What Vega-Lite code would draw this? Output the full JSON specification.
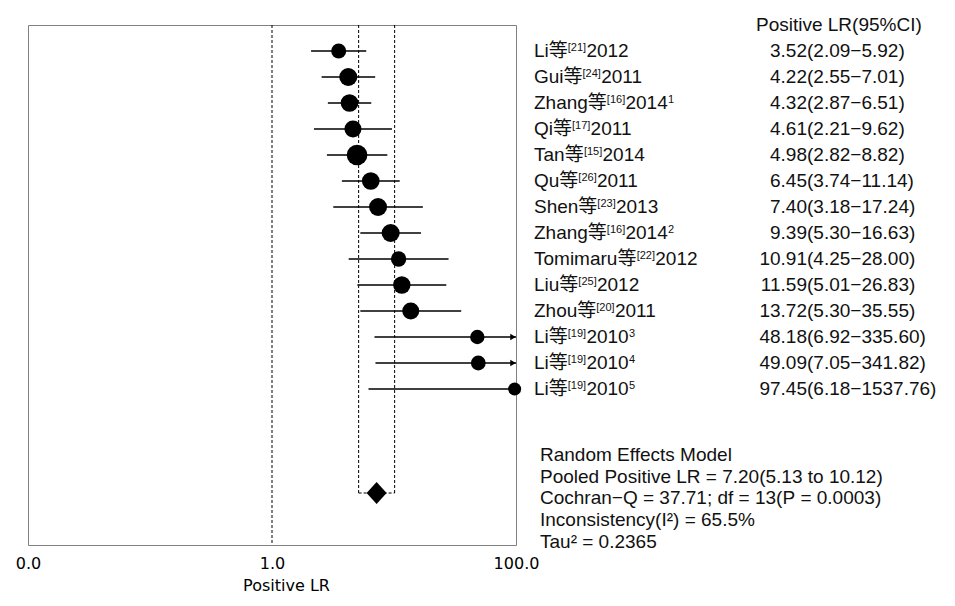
{
  "$schema": "https://vega.github.io/schema/vega-lite/v6.json",
  "background": "white",
  "padding": {"left": 14, "top": 15, "right": 0, "bottom": 0},
  "bounds": "flush",
  "spacing": 0,
  "config": {
    "view": {"stroke": null},
    "text": {"font": "Liberation Sans, Noto Sans CJK SC", "fontSize": 19, "color": "#111111"}
  },
  "datasets": {
    "studies": [
      {"row": 1, "name": "Li", "ref": "[21]", "year": "2012", "note": "", "est": 3.52, "lo": 2.09, "hi": 5.92, "weight": 5.7},
      {"row": 2, "name": "Gui", "ref": "[24]", "year": "2011", "note": "", "est": 4.22, "lo": 2.55, "hi": 7.01, "weight": 8.2},
      {"row": 3, "name": "Zhang", "ref": "[16]", "year": "2014", "note": "1", "est": 4.32, "lo": 2.87, "hi": 6.51, "weight": 7.9},
      {"row": 4, "name": "Qi", "ref": "[17]", "year": "2011", "note": "", "est": 4.61, "lo": 2.21, "hi": 9.62, "weight": 7.3},
      {"row": 5, "name": "Tan", "ref": "[15]", "year": "2014", "note": "", "est": 4.98, "lo": 2.82, "hi": 8.82, "weight": 10.8},
      {"row": 6, "name": "Qu", "ref": "[26]", "year": "2011", "note": "", "est": 6.45, "lo": 3.74, "hi": 11.14, "weight": 7.9},
      {"row": 7, "name": "Shen", "ref": "[23]", "year": "2013", "note": "", "est": 7.40, "lo": 3.18, "hi": 17.24, "weight": 8.2},
      {"row": 8, "name": "Zhang", "ref": "[16]", "year": "2014", "note": "2", "est": 9.39, "lo": 5.30, "hi": 16.63, "weight": 8.2},
      {"row": 9, "name": "Tomimaru", "ref": "[22]", "year": "2012", "note": "", "est": 10.91, "lo": 4.25, "hi": 28.00, "weight": 5.9},
      {"row": 10, "name": "Liu", "ref": "[25]", "year": "2012", "note": "", "est": 11.59, "lo": 5.01, "hi": 26.83, "weight": 7.6},
      {"row": 11, "name": "Zhou", "ref": "[20]", "year": "2011", "note": "", "est": 13.72, "lo": 5.30, "hi": 35.55, "weight": 7.3},
      {"row": 12, "name": "Li", "ref": "[19]", "year": "2010", "note": "3", "est": 48.18, "lo": 6.92, "hi": 335.60, "weight": 5.2},
      {"row": 13, "name": "Li", "ref": "[19]", "year": "2010", "note": "4", "est": 49.09, "lo": 7.05, "hi": 341.82, "weight": 5.5},
      {"row": 14, "name": "Li", "ref": "[19]", "year": "2010", "note": "5", "est": 97.45, "lo": 6.18, "hi": 1537.76, "weight": 4.3}
    ],
    "pooled": [
      {"row": 18, "est": 7.20, "lo": 5.13, "hi": 10.12}
    ],
    "header": [
      {"text": "Positive LR(95%CI)"}
    ],
    "stats": [
      {"line": 0, "part": "a", "text": "Random Effects Model"},
      {"line": 1, "part": "a", "text": "Pooled Positive LR = 7.20(5.13 to 10.12)"},
      {"line": 2, "part": "a", "text": "Cochran−Q = 37.71; df = 13("},
      {"line": 2, "part": "b", "text": "P"},
      {"line": 2, "part": "c", "text": "= 0.0003)"},
      {"line": 3, "part": "a", "text": "Inconsistency(I²) = 65.5%"},
      {"line": 4, "part": "a", "text": "Tau² = 0.2365"}
    ]
  },
  "resolve": {"scale": {"x": "independent", "y": "independent"}},
  "hconcat": [
    {
      "width": 488,
      "height": 520,
      "view": {"stroke": "#808080", "strokeWidth": 1},
      "layer": [
        {
          "data": {"name": "pooled"},
          "transform": [{"calculate": "1", "as": "one"}],
          "mark": {"type": "rule", "strokeDash": [3, 2], "color": "black", "strokeWidth": 1},
          "encoding": {
            "x": {
              "field": "one", "type": "quantitative",
              "scale": {"type": "log", "domain": [0.01, 100], "nice": false, "clamp": true},
              "axis": {
                "values": [0.01, 1, 100], "format": ".1f", "labelFlush": false,
                "domain": false, "ticks": false, "grid": false,
                "labelFont": "DejaVu Sans", "labelFontSize": 16, "labelColor": "black", "labelPadding": 10,
                "title": "Positive LR", "titleFont": "DejaVu Sans", "titleFontSize": 16,
                "titleFontWeight": "normal", "titleColor": "black", "titlePadding": 6,
                "titleX": 258, "titleAlign": "center"
              }
            }
          }
        },
        {
          "data": {"name": "pooled"},
          "mark": {"type": "rule", "strokeDash": [3, 2], "color": "black", "strokeWidth": 1},
          "encoding": {
            "x": {"field": "lo", "type": "quantitative", "title": "Positive LR"},
            "y": {"field": "row", "type": "quantitative", "scale": {"domain": [0, 20], "nice": false, "reverse": true}, "axis": null},
            "y2": {"datum": 0}
          }
        },
        {
          "data": {"name": "pooled"},
          "mark": {"type": "rule", "strokeDash": [3, 2], "color": "black", "strokeWidth": 1},
          "encoding": {
            "x": {"field": "hi", "type": "quantitative", "title": "Positive LR"},
            "y": {"field": "row", "type": "quantitative", "axis": null},
            "y2": {"datum": 0}
          }
        },
        {
          "data": {"name": "pooled"},
          "mark": {"type": "rule", "strokeDash": [3, 2], "color": "black", "strokeWidth": 1},
          "encoding": {
            "x": {"field": "lo", "type": "quantitative", "title": "Positive LR"},
            "x2": {"field": "hi"},
            "y": {"field": "row", "type": "quantitative", "axis": null}
          }
        },
        {
          "data": {"name": "studies"},
          "mark": {"type": "rule", "color": "black", "strokeWidth": 1.3},
          "encoding": {
            "x": {"field": "lo", "type": "quantitative", "title": "Positive LR"},
            "x2": {"field": "hi"},
            "y": {"field": "row", "type": "quantitative", "axis": null}
          }
        },
        {
          "data": {"name": "studies"},
          "transform": [{"filter": "datum.hi > 100"}, {"calculate": "100", "as": "edge"}],
          "mark": {"type": "point", "shape": "triangle-right", "filled": true, "color": "black", "size": 40, "xOffset": -3, "opacity": 1},
          "encoding": {
            "x": {"field": "edge", "type": "quantitative", "title": "Positive LR"},
            "y": {"field": "row", "type": "quantitative", "axis": null}
          }
        },
        {
          "data": {"name": "studies"},
          "mark": {"type": "circle", "color": "black", "opacity": 1},
          "encoding": {
            "x": {"field": "est", "type": "quantitative", "title": "Positive LR"},
            "y": {"field": "row", "type": "quantitative", "axis": null},
            "size": {"field": "weight", "type": "quantitative", "scale": {"domain": [0, 10.8], "range": [0, 428], "zero": true}, "legend": null}
          }
        },
        {
          "data": {"name": "pooled"},
          "mark": {"type": "point", "shape": "M-1,0L0,-1.1L1,0L0,1.1Z", "filled": true, "color": "black", "size": 400, "opacity": 1},
          "encoding": {
            "x": {"field": "est", "type": "quantitative", "title": "Positive LR"},
            "y": {"field": "row", "type": "quantitative", "axis": null}
          }
        }
      ]
    },
    {
      "width": 439,
      "height": 520,
      "layer": [
        {
          "data": {"name": "header"},
          "transform": [{"calculate": "240", "as": "hx"}, {"calculate": "0", "as": "hy"}],
          "mark": {"type": "text", "align": "left", "baseline": "alphabetic", "dy": 5.5},
          "encoding": {
            "x": {"field": "hx", "type": "quantitative", "scale": {"domain": [0, 439], "nice": false, "zero": true}, "axis": null},
            "y": {"field": "hy", "type": "quantitative", "scale": {"domain": [0, 20], "nice": false, "reverse": true}, "axis": null},
            "text": {"field": "text"}
          }
        },
        {
          "data": {"name": "stats"},
          "transform": [
            {"calculate": "datum.part == 'a' ? 24 : datum.part == 'b' ? 24 + 242.4 : 24 + 242.4 + 12.7 + 5.3", "as": "hx"},
            {"calculate": "16.76 + datum.line * 21.75 / 26", "as": "hy"}
          ],
          "mark": {"type": "text", "align": "left", "baseline": "alphabetic"},
          "encoding": {
            "x": {"field": "hx", "type": "quantitative", "axis": null},
            "y": {"field": "hy", "type": "quantitative", "axis": null},
            "text": {"field": "text"},
            "fontStyle": {"condition": {"test": "datum.part == 'b'", "value": "italic"}, "value": "normal"}
          }
        },
        {
          "data": {"name": "studies"},
          "transform": [
            {"calculate": "datum.name + '等'", "as": "label"},
            {"calculate": "19 * (0.556 * length(datum.name) - 0.334 * (length(datum.name) - length(replace(datum.name, regexp('i', 'g'), ''))) - 0.223 * (length(datum.name) - length(replace(datum.name, regexp('r', 'g'), ''))) + 0.277 * (length(datum.name) - length(replace(datum.name, regexp('m', 'g'), ''))) + 0.222 * (length(datum.name) - length(replace(datum.name, regexp('[GQ]', 'g'), ''))) + 0.111 * (length(datum.name) - length(replace(datum.name, regexp('S', 'g'), ''))) + 0.055 * (length(datum.name) - length(replace(datum.name, regexp('Z', 'g'), ''))) - 0.04 * (length(datum.name) - length(replace(datum.name, regexp('T', 'g'), ''))))", "as": "nw"},
            {"calculate": "18", "as": "xname"},
            {"calculate": "18 + datum.nw + 19", "as": "xref"},
            {"calculate": "datum.xref + 18.6", "as": "xyear"},
            {"calculate": "datum.xyear + 42.5", "as": "xnote"},
            {"calculate": "291", "as": "xval"},
            {"calculate": "format(datum.est, '.2f')", "as": "estTxt"},
            {"calculate": "'(' + format(datum.lo, '.2f') + '−' + format(datum.hi, '.2f') + ')'", "as": "ciTxt"}
          ],
          "layer": [
            {
              "mark": {"type": "text", "align": "left", "baseline": "alphabetic", "dy": 5.5},
              "encoding": {
                "x": {"field": "xname", "type": "quantitative", "axis": null},
                "y": {"field": "row", "type": "quantitative", "axis": null},
                "text": {"field": "label"}
              }
            },
            {
              "mark": {"type": "text", "align": "left", "baseline": "alphabetic", "dy": -0.5, "fontSize": 11},
              "encoding": {
                "x": {"field": "xref", "type": "quantitative", "axis": null},
                "y": {"field": "row", "type": "quantitative", "axis": null},
                "text": {"field": "ref"}
              }
            },
            {
              "mark": {"type": "text", "align": "left", "baseline": "alphabetic", "dy": 5.5},
              "encoding": {
                "x": {"field": "xyear", "type": "quantitative", "axis": null},
                "y": {"field": "row", "type": "quantitative", "axis": null},
                "text": {"field": "year"}
              }
            },
            {
              "transform": [{"filter": "datum.note != ''"}],
              "mark": {"type": "text", "align": "left", "baseline": "alphabetic", "dy": -0.5, "fontSize": 11},
              "encoding": {
                "x": {"field": "xnote", "type": "quantitative", "axis": null},
                "y": {"field": "row", "type": "quantitative", "axis": null},
                "text": {"field": "note"}
              }
            },
            {
              "mark": {"type": "text", "align": "right", "baseline": "alphabetic", "dy": 5.5},
              "encoding": {
                "x": {"field": "xval", "type": "quantitative", "axis": null},
                "y": {"field": "row", "type": "quantitative", "axis": null},
                "text": {"field": "estTxt"}
              }
            },
            {
              "mark": {"type": "text", "align": "left", "baseline": "alphabetic", "dy": 5.5},
              "encoding": {
                "x": {"field": "xval", "type": "quantitative", "axis": null},
                "y": {"field": "row", "type": "quantitative", "axis": null},
                "text": {"field": "ciTxt"}
              }
            }
          ]
        }
      ]
    }
  ]
}
